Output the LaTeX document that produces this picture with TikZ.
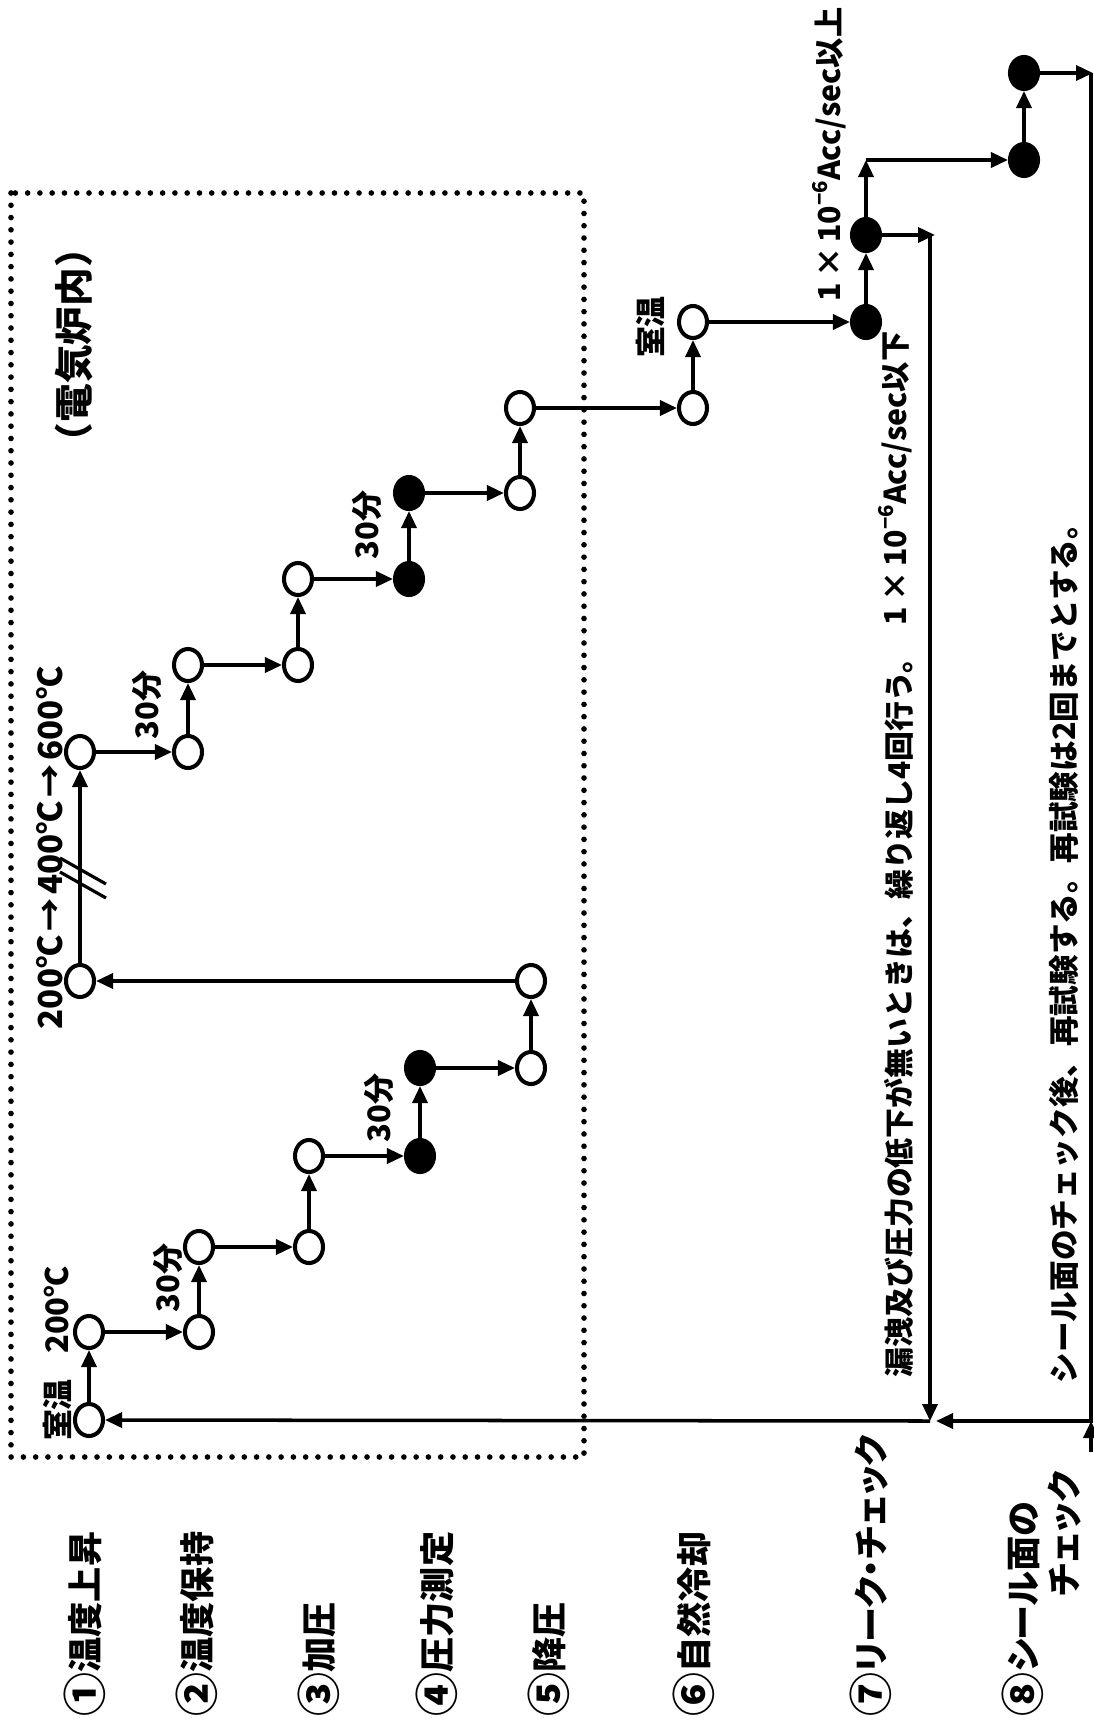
\documentclass[tikz,border=0pt]{standalone}
\usepackage{graphicx}
\usepackage{fontspec}
\setmainfont{Noto Sans CJK JP}
\usetikzlibrary{arrows.meta,shapes.geometric}
\newcommand\circnum[1]{\raisebox{-0.09em}{\scalebox{1.25}{#1}}}
\begin{document}
\begin{tikzpicture}[x=0.01cm,y=-0.01cm,
  st/.style={ellipse, draw, line width=1.15pt, minimum width=0.28cm, minimum height=0.32cm, inner sep=0pt, fill=white},
  fd/.style={st, fill=black},
  ar/.style={line width=1pt, -{Triangle[length=1.7mm,width=1.5mm]}},
  brk/.style={line width=0.9pt},
  dotbox/.style={line width=1.6pt, dash pattern=on 0pt off 3.49pt, line cap=round},
  lab/.style={rotate=90, inner sep=0pt, anchor=west, font=\bfseries\fontsize{10pt}{12pt}\selectfont},
  kana/.style={font=\bfseries\fontsize{10pt}{12pt}\selectfont\addfontfeatures{RawFeature=+palt}},
  sm/.style={rotate=90, inner sep=0pt, font=\bfseries\fontsize{8.8pt}{10pt}\selectfont},
  note/.style={rotate=90, inner sep=0pt, font=\bfseries\fontsize{8.5pt}{10pt}\selectfont},
  ttl/.style={rotate=90, inner sep=0pt, font=\bfseries\fontsize{11pt}{13pt}\selectfont}]
\useasboundingbox (0,0) rectangle (1093,1730);
\fill[white] (0,0) rectangle (1093,1730);

% dotted furnace box
\draw[dotbox] (11,193) rectangle (584,1457);
\node[ttl] (title) at (74,345) {（電気炉内）};

% state nodes
\node[st] (A1) at (89,1420) {};
\node[st] (A2) at (89,1332) {};
\node[st] (A3) at (199,1332) {};
\node[st] (A4) at (199,1247) {};
\node[st] (A5) at (309,1247) {};
\node[st] (A6) at (309,1156) {};
\node[fd] (B1) at (420,1156) {};
\node[fd] (B2) at (420,1068) {};
\node[st] (A7) at (531,1068) {};
\node[st] (A8) at (531,981) {};
\node[st] (A9) at (80,981) {};
\node[st] (A10) at (80,752) {};
\node[st] (A11) at (188,752) {};
\node[st] (A12) at (188,665) {};
\node[st] (A13) at (298,665) {};
\node[st] (A14) at (298,579) {};
\node[fd] (B3) at (409,579) {};
\node[fd] (B4) at (409,493) {};
\node[st] (A15) at (520,493) {};
\node[st] (A16) at (520,408) {};
\node[st] (A17) at (693,408) {};
\node[st] (A18) at (693,322) {};
\node[fd] (C1) at (866,322) {};
\node[fd] (C2) at (866,235) {};
\node[fd] (C3) at (1024,160) {};
\node[fd] (C4) at (1024,73) {};

\coordinate (k1) at (866,160);
\coordinate (k2) at (935,235);
\coordinate (k3) at (930,235);
\coordinate (k4) at (930,1421);
\coordinate (k5) at (1093,73);
\coordinate (k5b) at (1091,73);
\coordinate (k6) at (1091,1421);
\coordinate (k7) at (936,1421);
\coordinate (k8) at (1091,1452);
\coordinate (b1) at (60,858);
\coordinate (b2) at (106,884);
\coordinate (b3) at (60,872);
\coordinate (b4) at (106,898);

% connectors
\draw[ar] (A1) -- (A2);
\draw[ar] (A2) -- (A3);
\draw[ar] (A3) -- (A4);
\draw[ar] (A4) -- (A5);
\draw[ar] (A5) -- (A6);
\draw[ar] (A6) -- (B1);
\draw[ar] (B1) -- (B2);
\draw[ar] (B2) -- (A7);
\draw[ar] (A7) -- (A8);
\draw[ar] (A8) -- (A9);
\draw[ar] (A9) -- (A10);
\draw[brk] (b1) -- (b2);
\draw[brk] (b3) -- (b4);
\draw[ar] (A10) -- (A11);
\draw[ar] (A11) -- (A12);
\draw[ar] (A12) -- (A13);
\draw[ar] (A13) -- (A14);
\draw[ar] (A14) -- (B3);
\draw[ar] (B3) -- (B4);
\draw[ar] (B4) -- (A15);
\draw[ar] (A15) -- (A16);
\draw[ar] (A16) -- (A17);
\draw[ar] (A17) -- (A18);
\draw[ar] (A18) -- (C1);
\draw[ar] (C1) -- (C2);
\draw[ar] (C2) -- (k1);
\draw[ar] (k1) -- (C3);
\draw[ar] (C3) -- (C4);
\draw[ar] (C2) -- (k2);
\draw[ar] (k3) -- (k4);
\draw[ar] (C4) -- (k5);
\draw[ar] (k5b) -- (k6) -- (k7);
\draw[ar] (k8) -- (k6);
\draw[ar] (k4) -- (A1);

% small labels
\node[sm] (s1) at (57,1410) {室温};
\node[sm] (s2) at (57,1310) {200℃};
\node[sm] (t1) at (168,1278) {30分};
\node[sm] (t2) at (379,1108) {30分};
\node[sm, font=\bfseries\fontsize{9.4pt}{10pt}\selectfont] (t3) at (50,848) {200℃\hspace{0.12em}→\hspace{0.12em}400℃\hspace{0.12em}→\hspace{0.12em}600℃};
\node[sm] (t4) at (147,705) {30分};
\node[sm] (t5) at (367,525) {30分};
\node[sm] (s3) at (650,327) {室温};

% notes
\node[note, anchor=west] (n1) at (899,1378) {漏洩及び圧力の低下が無いときは、繰り返し4回行う。};
\node[note, anchor=base east, font=\bfseries\fontsize{8.6pt}{10pt}\selectfont] (n2) at (906,331) {1\,×\,10\raisebox{0.42em}{\fontsize{5.8pt}{6pt}\selectfont −6}Acc/sec以下};
\node[note, anchor=base east, font=\bfseries\fontsize{8.6pt}{10pt}\selectfont] (n3) at (840,7) {1\,×\,10\raisebox{0.42em}{\fontsize{5.8pt}{6pt}\selectfont −6}Acc/sec以上};
\node[note, anchor=west, font=\bfseries\fontsize{8.7pt}{10pt}\selectfont] (n4) at (1064,1384) {シール面のチェック後、再試験する。再試験は2回までとする。};

% step labels
\node[lab] (L1) at (85,1717) {\circnum{①}温度上昇};
\node[lab] (L2) at (197,1717) {\circnum{②}温度保持};
\node[lab] (L3) at (319,1717) {\circnum{③}加圧};
\node[lab] (L4) at (437,1717) {\circnum{④}圧力測定};
\node[lab] (L5) at (549,1717) {\circnum{⑤}降圧};
\node[lab] (L6) at (694,1717) {\circnum{⑥}自然冷却};
\node[lab, kana] (L7) at (871,1717) {\circnum{⑦}リーク・チェック};
\node[lab, kana] (L8a) at (1023,1717) {\circnum{⑧}シール面の};
\node[lab, kana] (L8b) at (1065,1597) {チェック};
\end{tikzpicture}
\end{document}
